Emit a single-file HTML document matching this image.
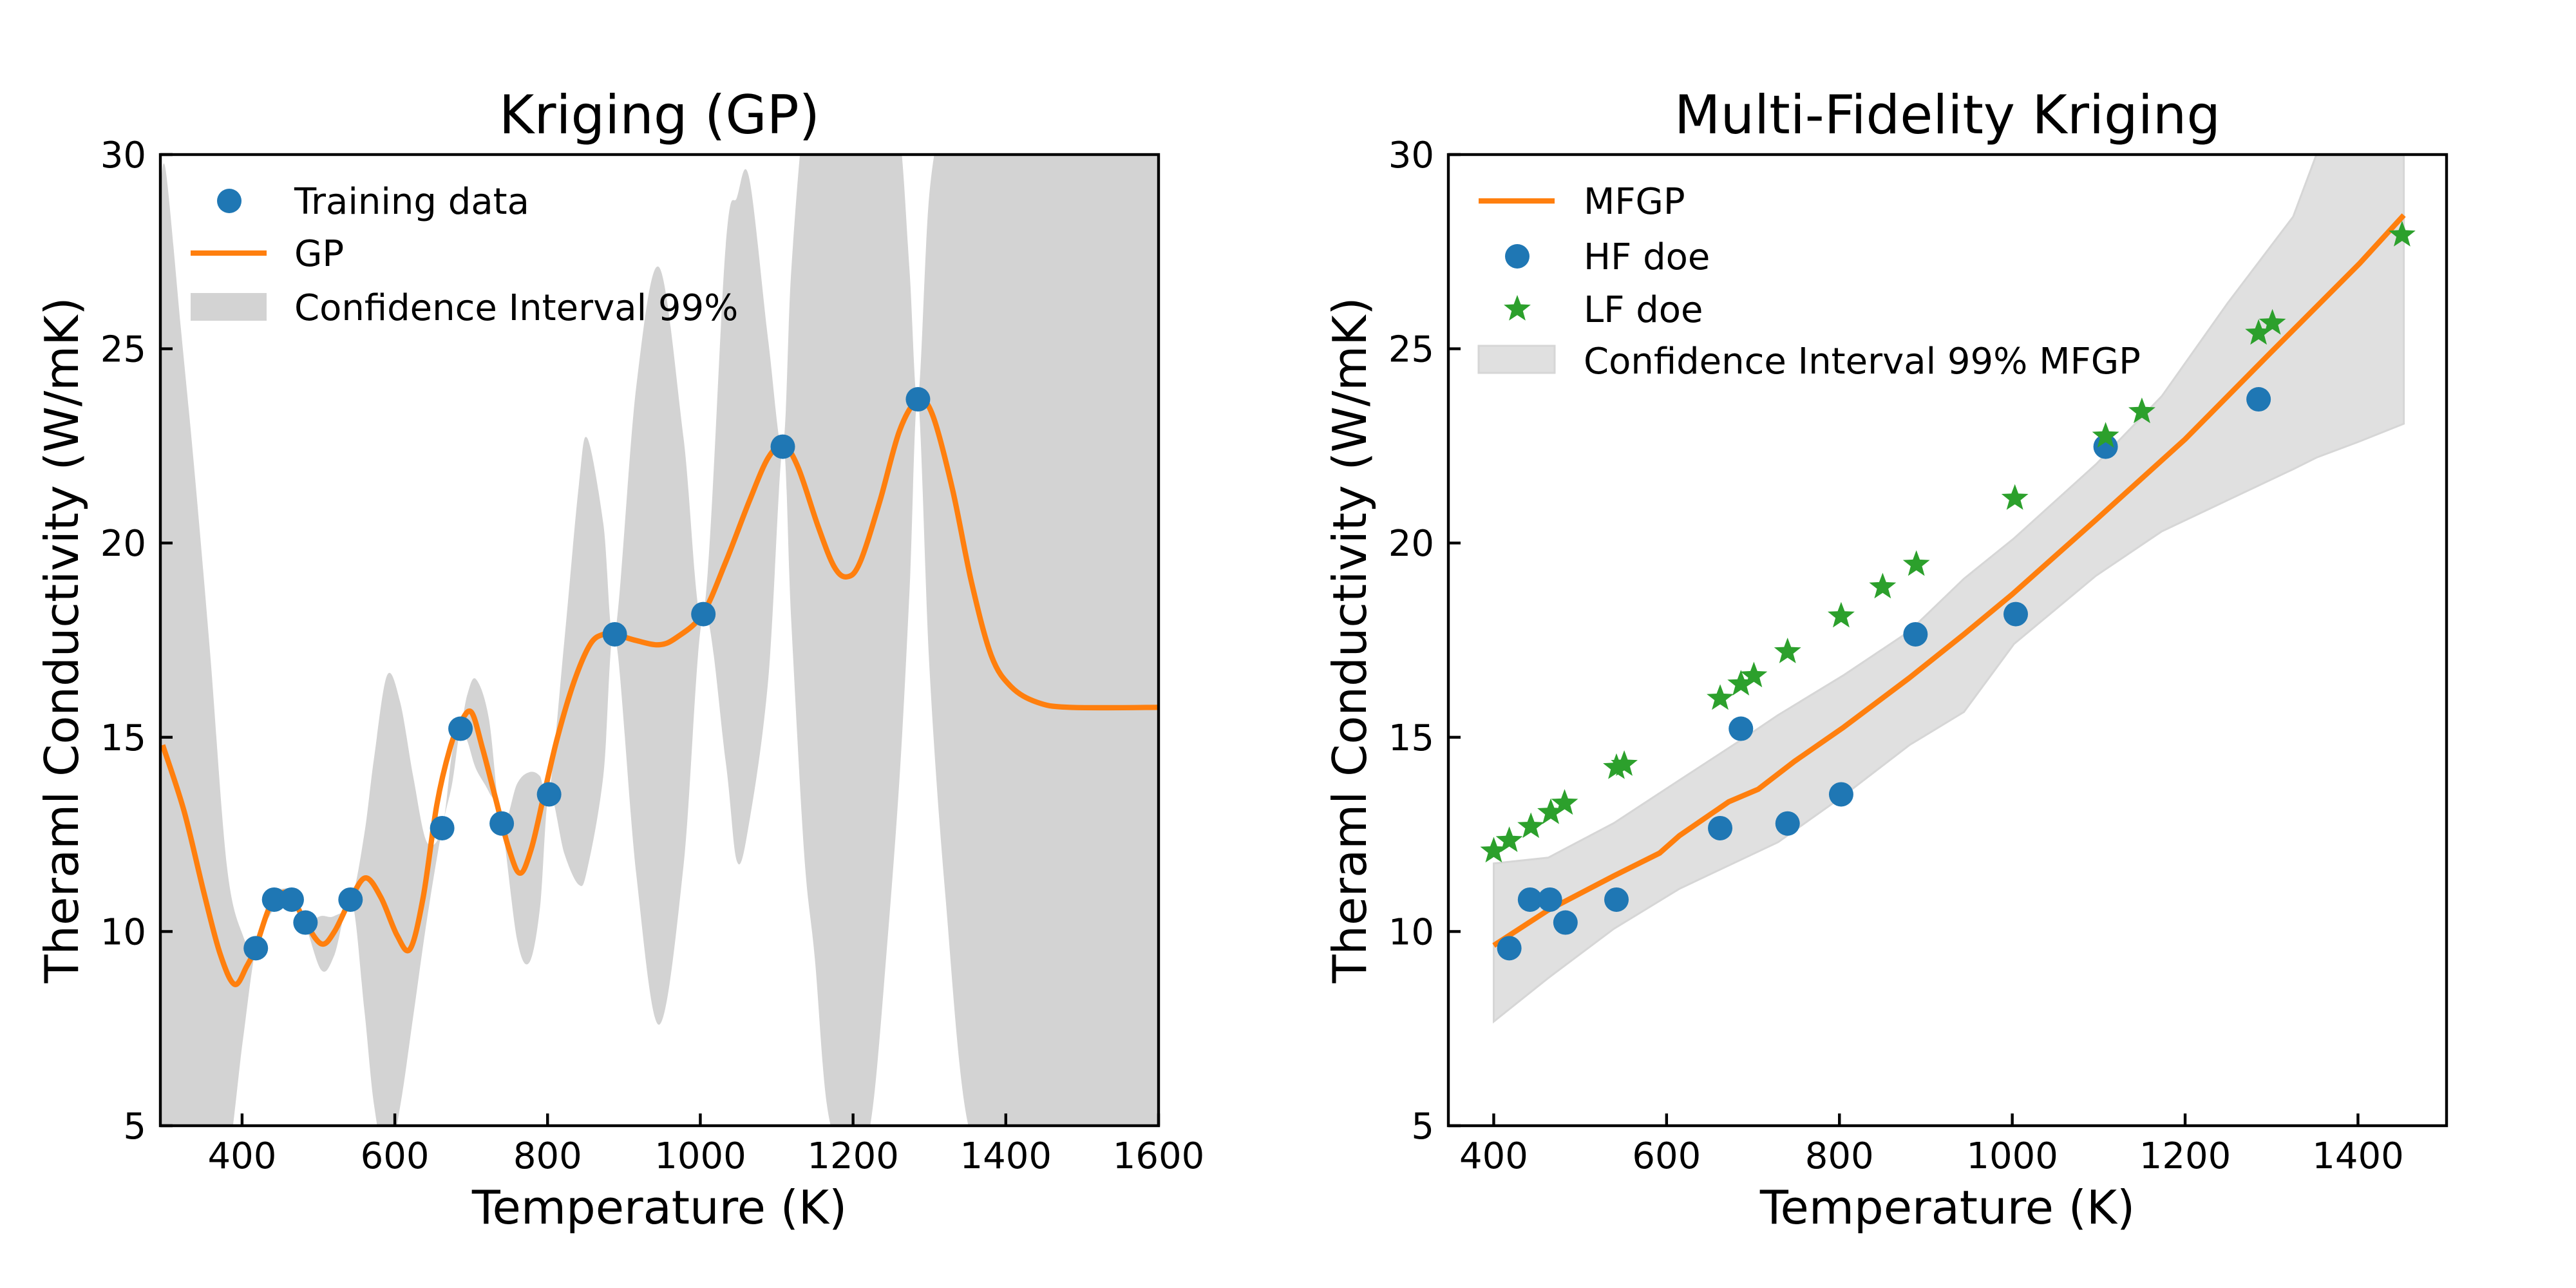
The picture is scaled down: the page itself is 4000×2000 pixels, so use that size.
<!DOCTYPE html>
<html><head><meta charset="utf-8"><style>
html,body{margin:0;padding:0;background:#fff;width:4000px;height:2000px;overflow:hidden;}
svg{display:block;font-family:"DejaVu Sans","Liberation Sans",sans-serif;}
</style></head><body>
<svg id="fig" width="4000" height="2000" viewBox="0 0 4000 2000">
<defs>
<clipPath id="clipL"><rect x="249" y="240" width="1550" height="1508"/></clipPath>
<clipPath id="clipR"><rect x="2249" y="240" width="1550" height="1508"/></clipPath>
</defs>
<g id="panelL"></g>
<g id="panelR"></g>
</svg>
<script>
// ---- Left panel data ----
const gpT = [296,324,350,371,390,406,418,436,453,466,483,504,521,543,562,582,603,620,637,655,672,685,700,715,732,749,764,779,796,813,835,856,873,888,916,946,969,1003,1033,1064,1089,1109,1128,1154,1175,1192,1209,1235,1261,1285,1304,1330,1355,1381,1407,1441,1484,1600];
const gpV = [14.8,13.1,11.0,9.44,8.64,9.1,9.6,10.63,11.0,10.87,10.23,9.68,10.0,10.87,11.38,10.87,9.9,9.55,10.87,13.26,14.7,15.33,15.65,14.7,13.42,12.15,11.5,12.15,13.58,15.0,16.45,17.4,17.65,17.65,17.49,17.38,17.57,18.17,19.5,21.07,22.2,22.5,21.95,20.44,19.4,19.13,19.5,21.07,22.9,23.67,23.3,21.4,19.0,17.1,16.3,15.9,15.77,15.77];
const ciT = [293,300,320,337,358,380,401,418,436,453,466,483,504,521,543,560,573,590,607,624,642,662,675,686,695,706,723,740,760,776,790,802,822,841,852,873,888,916,946,978,1004,1033,1048,1064,1089,1108,1119,1136,1150,1166,1190,1209,1226,1244,1261,1274,1285,1300,1321,1351,1400,1600];
const ciUp = [29.0,29.6,25.5,22.0,17.2,11.7,9.9,9.57,10.9,11.1,11.0,10.3,10.4,10.4,10.82,12.5,14.5,16.6,15.9,14.0,12.3,12.66,14.6,15.22,16.1,16.5,15.5,12.78,13.8,14.1,14.0,13.53,17.5,21.5,22.7,20.5,17.65,24.0,27.1,22.7,18.17,27.6,28.9,29.4,25.2,22.48,27,31,35,38,40,40,38,34,30.5,27,23.7,29,35,45,60,60];
const ciLo = [-3,-4,-4,-2,1,4,7.2,9.57,10.4,10.8,10.7,10.15,9.0,9.4,10.82,8.0,5.5,3.8,5.5,7.8,10.3,12.66,13.8,15.22,14.9,14.2,13.6,12.78,9.8,9.2,10.6,13.53,12.0,11.2,11.6,14.0,17.65,11.5,7.6,11.7,18.17,14.4,11.8,12.8,16.5,22.48,18,12,9.3,5.5,0,3,5.5,9.5,14,18.8,23.7,16.8,10.9,5,-5,-20];
const hfT = [418,442,465,483,542,662,686,740,802,888,1004,1108,1285];
const hfV = [9.57,10.82,10.82,10.23,10.82,12.66,15.22,12.78,13.53,17.65,18.17,22.48,23.7];
// ---- Right panel data ----
const mfT = [400,463,539,592,615,672,706,748,805,881,944,1000,1097,1200,1299,1402,1453];
const mfV = [9.64,10.55,11.43,12.02,12.47,13.34,13.66,14.38,15.26,16.53,17.65,18.68,20.6,22.67,24.9,27.2,28.44];
const mciT = [400,463,539,615,691,729,805,881,944,1002,1097,1173,1249,1325,1352,1400,1453];
const mciUp = [11.75,11.9,12.79,13.9,15.0,15.57,16.6,17.73,19.08,20.12,22.03,23.78,26.17,28.4,30,32,33.5];
const mciLo = [7.68,8.8,10.07,11.1,11.9,12.3,13.5,14.8,15.65,17.4,19.16,20.3,21.1,21.9,22.2,22.6,23.07];
const lfT = [400,418,443,466,482,542,551,662,686,701,740,802,850,889,1003,1108,1150,1285,1301,1451];
const lfV = [12.07,12.34,12.7,13.06,13.3,14.22,14.3,16.0,16.37,16.58,17.2,18.12,18.87,19.45,21.15,22.75,23.38,25.4,25.66,27.93];
// ---- Ticks ----
const xTicksL = [400,600,800,1000,1200,1400,1600];
const xTicksR = [400,600,800,1000,1200,1400];
const yTicks = [5,10,15,20,25,30];

const NS='http://www.w3.org/2000/svg';
function mk(tag, attrs, parent){const e=document.createElementNS(NS,tag);for(const k in attrs)e.setAttribute(k,attrs[k]);parent.appendChild(e);return e;}
const Y0=240,Y1=1748;
function yS(v){return Y1-(v-5)/25*(Y1-Y0);}
function yC(v){return Math.max(Y0-60,Math.min(Y1+60,yS(v)));}
function xScale(x0,x1,t0,t1){return t=>x0+(t-t0)/(t1-t0)*(x1-x0);}
function crPath(pts){
  let d='M'+pts[0][0].toFixed(1)+','+pts[0][1].toFixed(1);
  for(let i=0;i<pts.length-1;i++){
    const p0=pts[Math.max(0,i-1)],p1=pts[i],p2=pts[i+1],p3=pts[Math.min(pts.length-1,i+2)];
    const c1=[p1[0]+(p2[0]-p0[0])/6,p1[1]+(p2[1]-p0[1])/6];
    const c2=[p2[0]-(p3[0]-p1[0])/6,p2[1]-(p3[1]-p1[1])/6];
    d+='C'+c1[0].toFixed(1)+','+c1[1].toFixed(1)+' '+c2[0].toFixed(1)+','+c2[1].toFixed(1)+' '+p2[0].toFixed(1)+','+p2[1].toFixed(1);
  }
  return d;
}
function linePath(pts){return 'M'+pts.map(p=>p[0].toFixed(1)+','+p[1].toFixed(1)).join('L');}
function starPts(cx,cy,r){const a=[];for(let i=0;i<10;i++){const rr=i%2?r*0.42:r;const ang=-Math.PI/2+i*Math.PI/5;a.push((cx+rr*Math.cos(ang)).toFixed(1)+','+(cy+rr*Math.sin(ang)).toFixed(1));}return a.join(' ');}

function axes(g,x0,x1,xS,xticks,title){
  xticks.forEach(t=>{
    const x=xS(t);
    const tk=mk('line',{x1:x,x2:x,y1:Y1,y2:Y1-19,stroke:'#000','stroke-width':4.4},g);
    
    
    const lb=mk('text',{x:x,y:Y1+66,'font-size':56,'text-anchor':'middle'},g);
    lb.textContent=t;
    
    
  });
  yTicks.forEach(v=>{
    const y=yS(v);
    const tk=mk('line',{x1:x0,x2:x0+19,y1:y,y2:y,stroke:'#000','stroke-width':4.4},g);
    
    
    const lb=mk('text',{x:x0-22,y:y+20,'font-size':56,'text-anchor':'end'},g);
    lb.textContent=v;
    
    
  });
  const fr=mk('rect',{x:x0,y:Y0,width:x1-x0,height:Y1-Y0,fill:'none',stroke:'#000','stroke-width':4.4},g);
  
  
  const cx=(x0+x1)/2;
  const tt=mk('text',{x:cx,y:207,'font-size':83,'text-anchor':'middle'},g);
  tt.textContent=title;
  
  
  const xl=mk('text',{x:cx,y:1900,'font-size':72,'text-anchor':'middle'},g);
  xl.textContent='Temperature (K)';
  
  
  const yl=mk('text',{x:0,y:0,'font-size':72,'text-anchor':'middle',transform:'translate('+(x0-128)+','+((Y0+Y1)/2)+') rotate(-90)'},g);
  yl.textContent='Theraml Conductivity (W/mK)';
  
  
}

// ----- Left panel -----
(function(){
  const g=document.getElementById('panelL');
  const xS=xScale(249,1799,293,1600);
  const cg=mk('g',{'clip-path':'url(#clipL)'},g);
  const up=ciT.map((t,i)=>[xS(t),yC(ciUp[i])]);
  const lo=ciT.map((t,i)=>[xS(t),yC(ciLo[i])]).reverse();
  let d=crPath(up)+'L'+crPath(lo).slice(1)+'Z';
  const band=mk('path',{d:d,fill:'#d3d3d3'},cg);
  
  
  const line=mk('path',{d:crPath(gpT.map((t,i)=>[xS(t),yS(gpV[i])])),fill:'none',stroke:'#ff7f0e','stroke-width':8.3,'stroke-linejoin':'round'},cg);
  
  
  hfT.forEach((t,i)=>{
    const c=mk('circle',{cx:xS(t),cy:yS(hfV[i]),r:19,fill:'#1f77b4'},cg);
    
    
  });
  axes(g,249,1799,xS,xTicksL,'Kriging (GP)');
  const lg=mk('g',{},g);
  
  
  const lc=mk('circle',{cx:356,cy:312,r:19,fill:'#1f77b4'},lg);
  
  
  const ll=mk('line',{x1:296,x2:414,y1:393,y2:393,stroke:'#ff7f0e','stroke-width':8.3},lg);
  
  
  const lr=mk('rect',{x:296,y:455,width:118,height:43,fill:'#d3d3d3'},lg);
  
  
  [['Training data',332],['GP',413],['Confidence Interval 99%',497]].forEach(([s,y])=>{
    const t=mk('text',{x:457,y:y,'font-size':56},lg);
    t.textContent=s;
    
    
  });
})();

// ----- Right panel -----
(function(){
  const g=document.getElementById('panelR');
  const xS=xScale(2249,3799,347.5,1502.5);
  const cg=mk('g',{'clip-path':'url(#clipR)'},g);
  const up=mciT.map((t,i)=>[xS(t),yC(mciUp[i])]);
  const lo=mciT.map((t,i)=>[xS(t),yC(mciLo[i])]).reverse();
  const band=mk('path',{d:linePath(up.concat(lo))+'Z',fill:'#e0e0e0',stroke:'#d6d6d6','stroke-width':3},cg);
  
  
  const line=mk('path',{d:linePath(mfT.map((t,i)=>[xS(t),yS(mfV[i])])),fill:'none',stroke:'#ff7f0e','stroke-width':8.3,'stroke-linejoin':'round'},cg);
  
  
  hfT.forEach((t,i)=>{
    const c=mk('circle',{cx:xS(t),cy:yS(hfV[i]),r:19,fill:'#1f77b4'},cg);
    
    
  });
  lfT.forEach((t,i)=>{
    const s=mk('polygon',{points:starPts(xS(t),yS(lfV[i]),22),fill:'#2ca02c'},cg);
    
    
  });
  axes(g,2249,3799,xS,xTicksR,'Multi-Fidelity Kriging');
  const lg=mk('g',{},g);
  
  
  const ll=mk('line',{x1:2296,x2:2414,y1:312,y2:312,stroke:'#ff7f0e','stroke-width':8.3},lg);
  
  
  const lc=mk('circle',{cx:2356,cy:398,r:19,fill:'#1f77b4'},lg);
  
  
  const ls=mk('polygon',{points:starPts(2356,480,22),fill:'#2ca02c'},lg);
  
  
  const lr=mk('rect',{x:2296,y:537,width:118,height:42,fill:'#e0e0e0',stroke:'#d6d6d6','stroke-width':3},lg);
  
  
  [['MFGP',332],['HF doe',418],['LF doe',500],['Confidence Interval 99% MFGP',580]].forEach(([s,y])=>{
    const t=mk('text',{x:2459,y:y,'font-size':56},lg);
    t.textContent=s;
    
    
  });
})();
</script>
</body></html>
